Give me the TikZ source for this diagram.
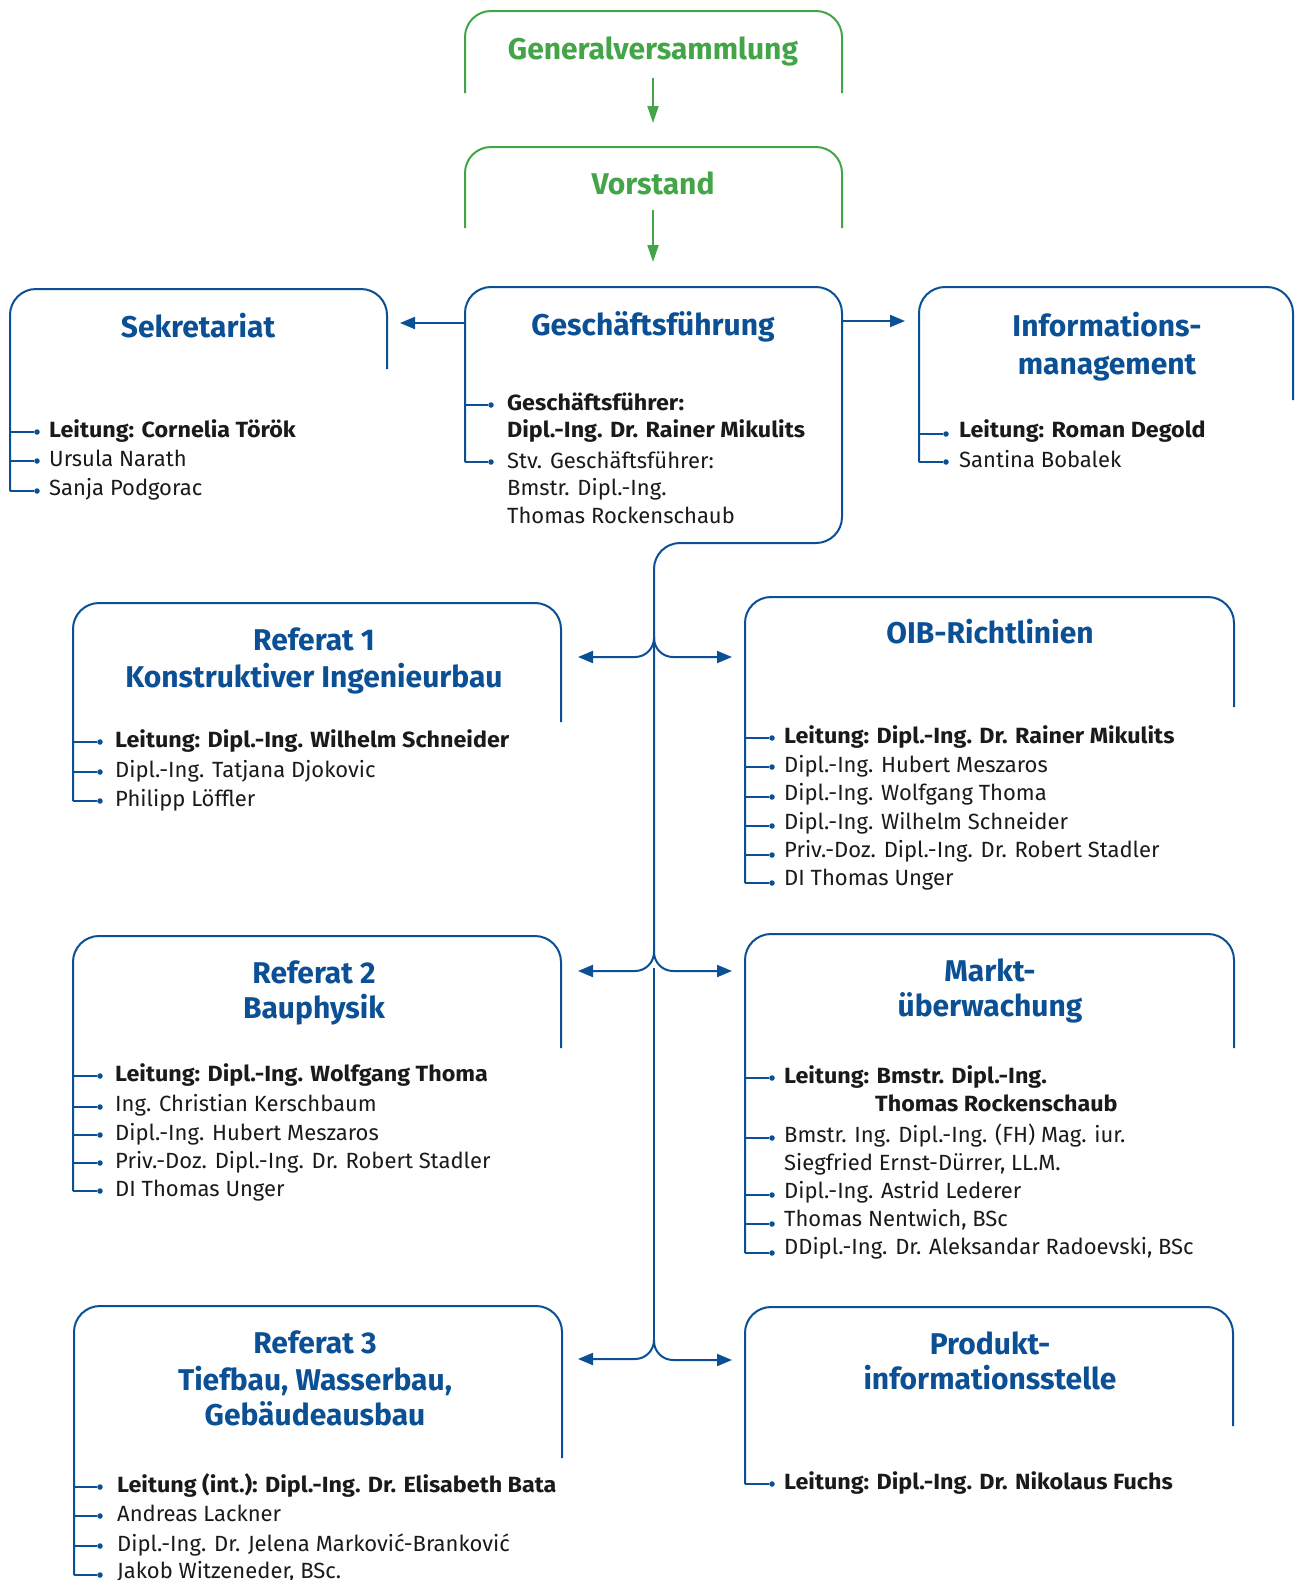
\documentclass[tikz,border=0pt]{standalone}
\usepackage{fontspec}
\setmainfont{Fira Sans}
\newfontfamily\itemfamily{Fira Sans}[BoldFeatures={FakeStretch=1.06}]
\usetikzlibrary{arrows.meta}
\definecolor{oibblue}{HTML}{0B4F94}
\definecolor{oibgreen}{HTML}{43A548}
\definecolor{txt}{HTML}{1A1A1A}
\tikzset{
  frame/.style={draw=oibblue, line width=2pt, rounded corners=26pt},
  gframe/.style={draw=oibgreen, line width=2pt, rounded corners=26pt},
  branch/.style={draw=oibblue, line width=2pt},
  arr/.style={draw=oibblue, line width=2pt, -{Triangle[length=15pt,width=12pt]}},
  garr/.style={draw=oibgreen, line width=2pt, -{Triangle[length=17pt,width=11pt]}},
  jarr/.style={arr, rounded corners=19pt},
  title/.style={font=\fontsize{30}{36}\selectfont\bfseries, text=oibblue, inner sep=0pt, anchor=base},
  gtitle/.style={title, text=oibgreen},
  item/.style={font=\itemfamily\fontsize{22}{28}\selectfont, text=txt, inner sep=0pt, anchor=base west},
  bitem/.style={item, font=\itemfamily\fontsize{22}{28}\selectfont\bfseries},
  dot/.style={circle, fill=oibblue, inner sep=0pt, minimum size=5.5pt},
}
\begin{document}
\begin{tikzpicture}[x=1pt,y=-1pt]
\useasboundingbox[fill=white] (0,0) rectangle (1295,1580);

% ---------- green top boxes ----------
\draw[gframe] (465,93) |- (842,11) -- (842,93);
\node[gtitle] (gv) at (653,59) {Generalversammlung};
\coordinate (gvout) at (653,78);
\coordinate (vsin) at (653,123);
\draw[garr] (gvout) -- (vsin);

\draw[gframe] (465,228) |- (842,147) -- (842,228);
\node[gtitle] (vs) at (653,194) {Vorstand};
\coordinate (vsout) at (653,210);
\coordinate (gfin) at (653,262);
\draw[garr] (vsout) -- (gfin);

% ---------- Geschäftsführung ----------
\coordinate (gfL) at (465,462);
\draw[frame] (gfL) |- (842,287) |- (654,543) -- (654,952);
\node[title] (gf) at (653,335) {Geschäftsführung};
\node[dot] (gfd1) at (491,405) {};
\node[dot] (gfd2) at (491,462) {};
\draw[branch] (465,405) -- (gfd1);
\draw[branch] (gfL) -- (gfd2);
\node[bitem] (gf1) at (507,410) {Geschäftsführer:};
\node[bitem] (gf2) at (507,437) {Dipl.-Ing. Dr. Rainer Mikulits};
\node[item] (gf3) at (507,468) {Stv. Geschäftsführer:};
\node[item] (gf4) at (507,495) {Bmstr. Dipl.-Ing.};
\node[item] (gf5) at (507,523) {Thomas Rockenschaub};

% arrows to Sekretariat / Informationsmanagement
\coordinate (gfw) at (465,323);
\coordinate (sekin) at (400,323);
\draw[arr] (gfw) -- (sekin);
\coordinate (gfe) at (842,321);
\coordinate (infin) at (905,321);
\draw[arr] (gfe) -- (infin);

% ---------- Sekretariat ----------
\draw[frame] (10,491) |- (387,289) -- (387,369);
\node[title] (sek) at (198,337) {Sekretariat};
\foreach \y/\n in {432/1,461/2,491/3}{
  \node[dot] (sekd\n) at (37,\y) {};
  \draw[branch] (10,\y) -- (sekd\n);
}
\node[bitem] (sek1) at (49,437) {Leitung: Cornelia Török};
\node[item] (sek2) at (49,466) {Ursula Narath};
\node[item] (sek3) at (49,495) {Sanja Podgorac};

% ---------- Informationsmanagement ----------
\draw[frame] (919,462) |- (1293,287) -- (1293,400);
\node[title] (inf1) at (1107,336) {Informations-};
\node[title] (inf2) at (1107,374) {management};
\foreach \y/\n in {434/1,462/2}{
  \node[dot] (infd\n) at (946,\y) {};
  \draw[branch] (919,\y) -- (infd\n);
}
\node[bitem] (inf3) at (959,437) {Leitung: Roman Degold};
\node[item] (inf4) at (959,467) {Santina Bobalek};

% ---------- trunk and junctions ----------
\draw[branch] (654,968) -- (654,1340);
\coordinate (j1) at (654,637);
\coordinate (j2) at (654,952);
\coordinate (j3) at (654,1340);
\coordinate (r1in) at (578,657);
\coordinate (oibin) at (732,657);
\coordinate (r2in) at (578,971);
\coordinate (mkin) at (732,971);
\coordinate (r3in) at (578,1359);
\coordinate (piin) at (732,1360);
\draw[jarr] (j1) |- (r1in);
\draw[jarr] (j1) |- (oibin);
\draw[jarr] (j2) |- (r2in);
\draw[jarr] (j2) |- (mkin);
\draw[jarr] (j3) |- (r3in);
\draw[jarr] (j3) |- (piin);

% ---------- Referat 1 ----------
\draw[frame] (73,801) |- (561,603) -- (561,722);
\node[title] (r1a) at (314,650) {Referat 1};
\node[title] (r1b) at (314,687) {Konstruktiver Ingenieurbau};
\foreach \y/\n in {742/1,772/2,801/3}{
  \node[dot] (r1d\n) at (100,\y) {};
  \draw[branch] (73,\y) -- (r1d\n);
}
\node[bitem] (r1i1) at (115,747) {Leitung: Dipl.-Ing. Wilhelm Schneider};
\node[item] (r1i2) at (115,777) {Dipl.-Ing. Tatjana Djokovic};
\node[item] (r1i3) at (115,806) {Philipp Löffler};

% ---------- OIB-Richtlinien ----------
\draw[frame] (745,883) |- (1234,597) -- (1234,707);
\node[title] (oib) at (990,643) {OIB-Richtlinien};
\foreach \y/\n in {738/1,767/2,797/3,826/4,855/5,883/6}{
  \node[dot] (oibd\n) at (772,\y) {};
  \draw[branch] (745,\y) -- (oibd\n);
}
\node[bitem] (oib1) at (784,743) {Leitung: Dipl.-Ing. Dr. Rainer Mikulits};
\node[item] (oib2) at (784,772) {Dipl.-Ing. Hubert Meszaros};
\node[item] (oib3) at (784,800) {Dipl.-Ing. Wolfgang Thoma};
\node[item] (oib4) at (784,829) {Dipl.-Ing. Wilhelm Schneider};
\node[item] (oib5) at (784,857) {Priv.-Doz. Dipl.-Ing. Dr. Robert Stadler};
\node[item] (oib6) at (784,885) {DI Thomas Unger};

% ---------- Referat 2 ----------
\draw[frame] (73,1191) |- (561,936) -- (561,1048);
\node[title] (r2a) at (314,983) {Referat 2};
\node[title] (r2b) at (314,1018) {Bauphysik};
\foreach \y/\n in {1076/1,1107/2,1135/3,1163/4,1191/5}{
  \node[dot] (r2d\n) at (100,\y) {};
  \draw[branch] (73,\y) -- (r2d\n);
}
\node[bitem] (r2i1) at (115,1081) {Leitung: Dipl.-Ing. Wolfgang Thoma};
\node[item] (r2i2) at (115,1111) {Ing. Christian Kerschbaum};
\node[item] (r2i3) at (115,1140) {Dipl.-Ing. Hubert Meszaros};
\node[item] (r2i4) at (115,1168) {Priv.-Doz. Dipl.-Ing. Dr. Robert Stadler};
\node[item] (r2i5) at (115,1196) {DI Thomas Unger};

% ---------- Marktüberwachung ----------
\draw[frame] (745,1253) |- (1234,934) -- (1234,1048);
\node[title] (mk1) at (990,981) {Markt-};
\node[title] (mk2) at (990,1016) {überwachung};
\foreach \y/\n in {1078/1,1138/2,1195/3,1224/4,1253/5}{
  \node[dot] (mkd\n) at (772,\y) {};
  \draw[branch] (745,\y) -- (mkd\n);
}
\node[bitem] (mk3) at (784,1083) {Leitung: Bmstr. Dipl.-Ing.};
\node[bitem] (mk4) at (875,1111) {Thomas Rockenschaub};
\node[item] (mk5) at (784,1142) {Bmstr. Ing. Dipl.-Ing. (FH) Mag. iur.};
\node[item] (mk6) at (784,1170) {Siegfried Ernst-Dürrer, LL.M.};
\node[item] (mk7) at (784,1198) {Dipl.-Ing. Astrid Lederer};
\node[item] (mk8) at (784,1226) {Thomas Nentwich, BSc};
\node[item] (mk9) at (784,1254) {DDipl.-Ing. Dr. Aleksandar Radoevski, BSc};

% ---------- Referat 3 ----------
\draw[frame] (74,1575) |- (562,1306) -- (562,1458);
\node[title] (r3a) at (315,1353) {Referat 3};
\node[title] (r3b) at (315,1390) {Tiefbau, Wasserbau,};
\node[title] (r3c) at (315,1425) {Gebäudeausbau};
\foreach \y/\n in {1487/1,1516/2,1546/3,1575/4}{
  \node[dot] (r3d\n) at (100,\y) {};
  \draw[branch] (74,\y) -- (r3d\n);
}
\node[bitem] (r3i1) at (117,1492) {Leitung (int.): Dipl.-Ing. Dr. Elisabeth Bata};
\node[item] (r3i2) at (117,1521) {Andreas Lackner};
\node[item] (r3i3) at (117,1551) {Dipl.-Ing. Dr. Jelena Marković-Branković};
\node[item] (r3i4) at (117,1578) {Jakob Witzeneder, BSc.};

% ---------- Produktinformationsstelle ----------
\draw[frame] (745,1484) |- (1233,1307) -- (1233,1426);
\node[title] (pi1) at (990,1354) {Produkt-};
\node[title] (pi2) at (990,1389) {informationsstelle};
\node[dot] (pid1) at (772,1484) {};
\draw[branch] (745,1484) -- (pid1);
\node[bitem] (pi3) at (784,1489) {Leitung: Dipl.-Ing. Dr. Nikolaus Fuchs};
\end{tikzpicture}
\end{document}
